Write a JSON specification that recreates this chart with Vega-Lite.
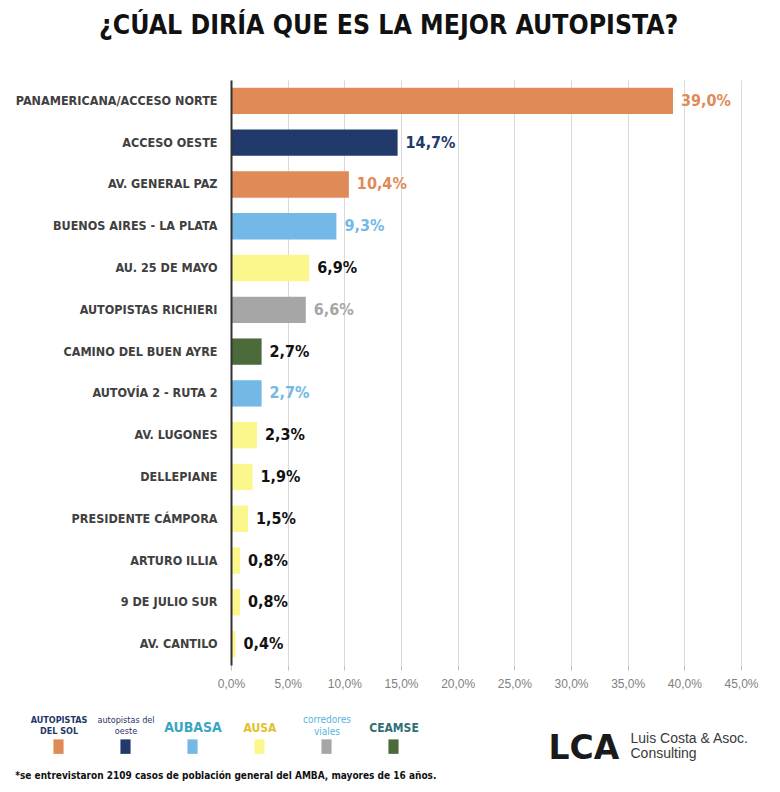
{
  "$schema": "https://vega.github.io/schema/vega-lite/v6.json",
  "padding": {"left": 15, "top": 12, "right": 10, "bottom": 5},
  "autosize": {"type": "pad"},
  "background": "white",
  "config": {
    "locale": {"number": {"decimal": ",", "thousands": ".", "grouping": [3], "currency": ["$", ""]}},
    "view": {"stroke": null},
    "font": "Liberation Sans"
  },
  "title": {
    "text": "¿CÚAL DIRÍA QUE ES LA MEJOR AUTOPISTA?",
    "font": "DejaVu Sans Condensed",
    "fontSize": 26.4,
    "fontWeight": "bold",
    "color": "#111111",
    "anchor": "middle",
    "dx": 2,
    "offset": 41
  },
  "vconcat": [
    {
      "width": 510,
      "height": 585,
      "title": {
        "text": "*se entrevistaron 2109 casos de población general del AMBA, mayores de 16 años.",
        "orient": "bottom",
        "anchor": "start",
        "frame": "bounds",
        "font": "DejaVu Sans Condensed",
        "fontSize": 10,
        "fontWeight": "bold",
        "color": "#111111",
        "offset": 6
      },
      "data": {
        "values": [
          {"autopista": "PANAMERICANA/ACCESO NORTE", "pct": 0.39, "operador": "Autopistas del Sol"},
          {"autopista": "ACCESO OESTE", "pct": 0.147, "operador": "Autopistas del Oeste"},
          {"autopista": "AV. GENERAL PAZ", "pct": 0.104, "operador": "Autopistas del Sol"},
          {"autopista": "BUENOS AIRES - LA PLATA", "pct": 0.093, "operador": "AUBASA"},
          {"autopista": "AU. 25 DE MAYO", "pct": 0.069, "operador": "AUSA"},
          {"autopista": "AUTOPISTAS RICHIERI", "pct": 0.066, "operador": "Corredores Viales"},
          {"autopista": "CAMINO DEL BUEN AYRE", "pct": 0.027, "operador": "CEAMSE"},
          {"autopista": "AUTOVÍA 2 - RUTA 2", "pct": 0.027, "operador": "AUBASA"},
          {"autopista": "AV. LUGONES", "pct": 0.023, "operador": "AUSA"},
          {"autopista": "DELLEPIANE", "pct": 0.019, "operador": "AUSA"},
          {"autopista": "PRESIDENTE CÁMPORA", "pct": 0.015, "operador": "AUSA"},
          {"autopista": "ARTURO ILLIA", "pct": 0.008, "operador": "AUSA"},
          {"autopista": "9 DE JULIO SUR", "pct": 0.008, "operador": "AUSA"},
          {"autopista": "AV. CANTILO", "pct": 0.004, "operador": "AUSA"}
        ]
      },
      "encoding": {
        "y": {
          "field": "autopista",
          "type": "nominal",
          "sort": null,
          "scale": {"paddingInner": 0.37, "paddingOuter": 0.185},
          "axis": {
            "title": ["Luis Costa & Asoc.", "Consulting"],
            "titleAngle": 0,
            "titleX": 399,
            "titleY": 651,
            "titleAlign": "left",
            "titleBaseline": "top",
            "titleFont": "Liberation Sans",
            "titleFontSize": 14,
            "titleFontWeight": "normal",
            "titleColor": "#3a3a3a",
            "titleLineHeight": 15,
            "domain": true,
            "domainColor": "#333333",
            "domainWidth": 2,
            "ticks": false,
            "labelPadding": 14,
            "labelFont": "DejaVu Sans Condensed",
            "labelFontSize": 12.5,
            "labelFontWeight": "bold",
            "labelColor": "#404040",
            "labelLimit": 300,
            "zindex": 1
          }
        },
        "x": {
          "field": "pct",
          "type": "quantitative",
          "scale": {"domain": [0, 0.45]},
          "axis": {
            "format": ".1%",
            "values": [0, 0.05, 0.1, 0.15, 0.2, 0.25, 0.3, 0.35, 0.4, 0.45],
            "grid": true,
            "gridColor": "#d9d9d9",
            "domain": false,
            "ticks": true,
            "tickColor": "#bfbfbf",
            "tickSize": 5,
            "labelFlush": false,
            "labelColor": "#7f7f7f",
            "labelFontSize": 12,
            "labelPadding": 8,
            "title": "LCA",
            "titleFont": "DejaVu Sans",
            "titleFontSize": 33,
            "titleFontWeight": "bold",
            "titleColor": "#1a1a1a",
            "titleX": 317,
            "titleY": 93,
            "titleAlign": "left",
            "titleBaseline": "alphabetic"
          }
        }
      },
      "layer": [
        {
          "mark": {"type": "bar"},
          "encoding": {
            "color": {
              "field": "operador",
              "type": "nominal",
              "scale": {
                "domain": ["Autopistas del Sol", "Autopistas del Oeste", "AUBASA", "AUSA", "Corredores Viales", "CEAMSE"],
                "range": ["#E08A57", "#223A6B", "#73B8E6", "#FBF78D", "#A6A6A6", "#4C6B3B"]
              },
              "legend": {
                "orient": "none",
                "legendX": -180,
                "legendY": 659,
                "padding": 0,
                "direction": "horizontal",
                "columns": 6,
                "gridAlign": "all",
                "columnPadding": 9,
                "title": null,
                "symbolType": "M-0.7,-1H0.7V1H-0.7Z",
                "symbolSize": 210,
                "symbolStrokeWidth": 0,
                "symbolOpacity": 1,
                "labelAlign": "center",
                "labelBaseline": "bottom",
                "labelOffset": -7,
                "labelFont": "DejaVu Sans Condensed",
                "labelFontSize": 12,
                "labelFontWeight": "bold",
                "labelLimit": 120,
                "labelExpr": "datum.value == 'Autopistas del Sol' ? ['AUTOPISTAS', 'DEL SOL'] : datum.value == 'Autopistas del Oeste' ? ['autopistas del', 'oeste'] : datum.value == 'Corredores Viales' ? ['corredores', 'viales'] : datum.value",
                "encoding": {
                  "labels": {
                    "dy": {
                      "condition": {"test": "datum.value == 'Autopistas del Sol' || datum.value == 'Autopistas del Oeste' || datum.value == 'Corredores Viales'", "value": -22},
                      "value": -12
                    },
                    "fill": {
                      "condition": [
                        {"test": "datum.value == 'AUBASA'", "value": "#3AA5C2"},
                        {"test": "datum.value == 'AUSA'", "value": "#E3C02C"},
                        {"test": "datum.value == 'Corredores Viales'", "value": "#5AB3DF"},
                        {"test": "datum.value == 'CEAMSE'", "value": "#2F6F73"}
                      ],
                      "value": "#1F3766"
                    },
                    "fontSize": {
                      "condition": [
                        {"test": "datum.value == 'Autopistas del Sol'", "value": 9},
                        {"test": "datum.value == 'AUBASA'", "value": 14},
                        {"test": "datum.value == 'Autopistas del Oeste'", "value": 9},
                        {"test": "datum.value == 'Corredores Viales'", "value": 10}
                      ],
                      "value": 12
                    },
                    "fontWeight": {
                      "condition": {"test": "datum.value == 'Autopistas del Oeste' || datum.value == 'Corredores Viales'", "value": "normal"},
                      "value": "bold"
                    }
                  }
                }
              }
            }
          }
        },
        {
          "mark": {"type": "text", "align": "left", "baseline": "middle", "dx": 8, "font": "DejaVu Sans Condensed", "fontSize": 16, "fontWeight": "bold"},
          "encoding": {
            "text": {"field": "pct", "type": "quantitative", "format": ".1%"},
            "color": {
              "field": "operador",
              "type": "nominal",
              "scale": {
                "domain": ["Autopistas del Sol", "Autopistas del Oeste", "AUBASA", "AUSA", "Corredores Viales", "CEAMSE"],
                "range": ["#E08A57", "#223A6B", "#73B8E6", "#111111", "#A6A6A6", "#111111"]
              },
              "legend": null
            }
          }
        }
      ],
      "resolve": {"scale": {"color": "independent"}}
    }
  ]
}
